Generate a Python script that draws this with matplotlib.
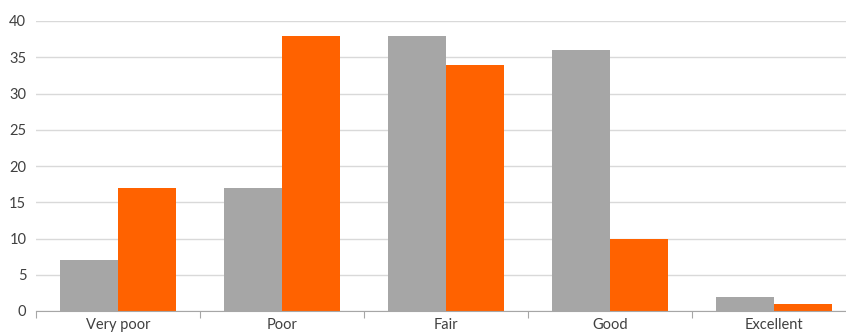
import matplotlib
matplotlib.use("Agg")
import matplotlib.pyplot as plt
import numpy as np

# Data
categories = ["Very poor", "Poor", "Fair", "Good", "Excellent"]
series_grey = [7, 17, 38, 36, 2]
series_orange = [17, 38, 34, 10, 1]
y_ticks = [0, 5, 10, 15, 20, 25, 30, 35, 40]

plt.rcParams['font.family'] = ['Lato', 'DejaVu Sans']

fig = plt.figure(figsize=(8.46, 3.34), dpi=100)
# the plot area runs a bit past the right edge, as in the original
ax = fig.add_axes([36 / 846, 23 / 334, 820 / 846, 290 / 334])

x = np.arange(len(categories))
w = 0.354
ax.bar(x - w / 2, series_grey, width=w, color="#A6A6A6", zorder=3)
ax.bar(x + w / 2, series_orange, width=w, color="#FF6200", zorder=3)

ax.set_xlim(-0.5, len(categories) - 0.5)
ax.set_ylim(0, 40)
ax.set_yticks(y_ticks)
ax.yaxis.grid(True, color="#D9D9D9", linewidth=1, zorder=0)

# category labels centred, tick marks on the boundaries
ax.set_xticks(x)
ax.set_xticklabels(categories)
ax.set_xticks(np.arange(len(categories) + 1) - 0.5, minor=True)
ax.tick_params(axis="x", which="major", length=0, pad=5, labelsize=10.5, labelcolor="#404040")
ax.tick_params(axis="x", which="minor", length=5, color="#A6A6A6", width=0.8)
ax.tick_params(axis="y", length=0, pad=7, labelsize=10.5, labelcolor="#404040")

for s in ["top", "right", "left"]:
    ax.spines[s].set_visible(False)
ax.spines["bottom"].set_color("#A6A6A6")
ax.spines["bottom"].set_linewidth(0.8)
ax.spines["bottom"].set_zorder(4)

fig.savefig("out.png", dpi=100)
